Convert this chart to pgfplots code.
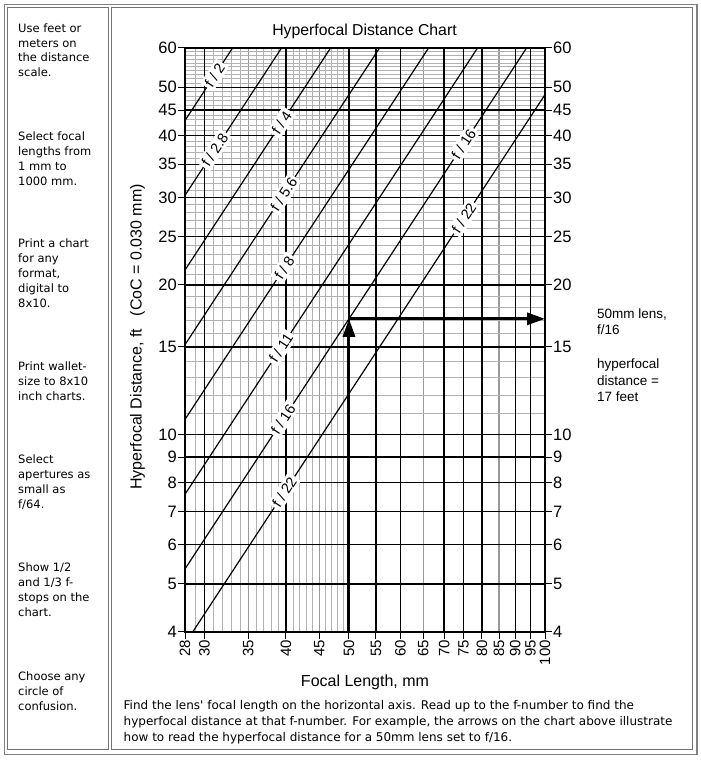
\documentclass[border=0pt]{standalone}
\usepackage{fontspec}
\setmainfont{Liberation Sans}
\newfontfamily\verd{DejaVu Sans}
\usepackage{pgfplots}
\pgfplotsset{compat=1.18}
\usetikzlibrary{arrows.meta}
\newcommand\vl[3]{\node[anchor=base west, inner sep=0pt, font=\verd\fontsize{11.5}{14}\selectfont] at (#1,{764-#2}) {#3};}
\newcommand\cl[3]{\node[anchor=base west, inner sep=0pt, font=\verd\fontsize{12}{14}\selectfont] at (#1,{764-#2}) {#3};}
\newcommand\al[3]{\node[anchor=base west, inner sep=0pt, font=\fontsize{13.5}{15}\selectfont] at (#1,{764-#2}) {#3};}
\begin{document}
\begin{tikzpicture}[x=1pt,y=1pt]
\path[use as bounding box] (0,0) rectangle (701,764);
% frames
\draw[gray, line width=1.2pt] (4.5,759.5) rectangle (697,9.5);
\draw[gray!90!black, line width=1pt] (7.5,756) rectangle (108,14);
\draw[gray!90!black, line width=1pt] (111,756) rectangle (692,14);
% left panel
\vl{18}{32.3}{Use feet or}
\vl{18}{47.1}{meters on}
\vl{18}{61.9}{the distance}
\vl{18}{76.7}{scale.}
\vl{18}{140.7}{Select focal}
\vl{18}{155.5}{lengths from}
\vl{18}{170.3}{1 mm to}
\vl{18}{185.1}{1000 mm.}
\vl{18}{248}{Print a chart}
\vl{18}{262.8}{for any}
\vl{18}{277.6}{format,}
\vl{18}{292.4}{digital to}
\vl{18}{307.2}{8x10.}
\vl{18}{370.7}{Print wallet-}
\vl{18}{385.5}{size to 8x10}
\vl{18}{400.3}{inch charts.}
\vl{18}{463.7}{Select}
\vl{18}{478.5}{apertures as}
\vl{18}{493.3}{small as}
\vl{18}{508.1}{f/64.}
\vl{18}{571.7}{Show 1/2}
\vl{18}{586.5}{and 1/3 f-}
\vl{18}{601.3}{stops on the}
\vl{18}{616.1}{chart.}
\vl{18}{680.5}{Choose any}
\vl{18}{695.3}{circle of}
\vl{18}{710.1}{confusion.}
% caption
\cl{123.5}{710}{Find the lens' focal length on the horizontal axis. Read up to the f-number to find the}
\cl{123.5}{726}{hyperfocal distance at that f-number. For example, the arrows on the chart above illustrate}
\cl{123.5}{742}{how to read the hyperfocal distance for a 50mm lens set to f/16.}
% right text
\al{597}{318.3}{50mm lens,}
\al{597}{335}{f/16}
\al{597}{369}{hyperfocal}
\al{597}{385.5}{distance =}
\al{597}{402}{17 feet}
% titles
\node[anchor=base, inner sep=0pt, font=\fontsize{15.8}{17}\selectfont] at (364.5,{764-36}) {Hyperfocal Distance Chart};
\node[anchor=base, inner sep=0pt, font=\fontsize{16}{17}\selectfont] at (365,{764-687}) {Focal Length, mm};
\node[anchor=base, rotate=90, inner sep=0pt, font=\fontsize{16}{17}\selectfont] at (141.5,{764-337}) {Hyperfocal Distance, ft\hspace{13pt}(CoC = 0.030 mm)};
% axis A: medium grey grid lines and right-hand tick labels (drawn underneath)
\begin{axis}[
  at={(185pt,132pt)}, anchor=south west, scale only axis,
  width=360pt, height=584pt,
  xmode=log, ymode=log, xmin=28, xmax=100, ymin=4, ymax=60,
  xtick={35,45,65,85}, xticklabels={}, xmajorgrids,
  major grid style={gray!80, line width=1.1pt},
  ytick={4,5,6,7,8,9,10,15,20,25,30,35,40,45,50,60},
  axis line style={draw=none},
  tick align=outside,
  xtick pos=left, xtick style={draw=none},
  ytick pos=right, yticklabel pos=right,
  major tick length=7pt,
  ytick style={black, line width=1pt},
  yticklabel={\pgfmathtruncatemacro\tl{round(exp(\tick))}\tl},
  yticklabel style={anchor=west, inner sep=1pt, font=\fontsize{16.5}{16.5}\selectfont},
]
\end{axis}
% axis B: main
\begin{axis}[
  at={(185pt,132pt)}, anchor=south west, scale only axis,
  width=360pt, height=584pt,
  xmode=log, ymode=log, xmin=28, xmax=100, ymin=4, ymax=60,
  xtick={28,30,35,40,45,50,55,60,65,70,75,80,85,90,95,100},
  minor xtick={29,31,32,33,34,36,37,38,39,41,42,43,44,46,47,48,49},
  ytick={4,5,6,7,8,9,10,15,20,25,30,35,40,45,50,60},
  minor ytick={11,12,13,14,16,17,18,19,21,22,23,24,26,27,28,29,31,32,33,34,36,37,38,39,41,42,43,44,46,47,48,49,51,52,53,54,55,56,57,58,59},
  xminorgrids, yminorgrids,
  minor grid style={gray!60, line width=0.7pt},
  extra x ticks={30,40,50,55,60,70,75,80,90,95},
  extra x tick labels={},
  extra x tick style={grid=major, major grid style={black, line width=1.25pt}, major tick length=0pt},
  extra y ticks={5,6,7,8,9,10,15,20,25,30,35,40,45,50},
  extra y tick labels={},
  extra y tick style={grid=major, major grid style={black, line width=1.25pt}, major tick length=0pt},
  axis line style={black, line width=1.8pt},
  tick align=outside,
  xtick pos=left, ytick pos=left,
  major tick length=7pt, minor tick length=0pt,
  tick style={black, line width=1pt},
  xticklabel={\pgfmathtruncatemacro\tl{round(exp(\tick))}\tl},
  yticklabel={\pgfmathtruncatemacro\tl{round(exp(\tick))}\tl},
  xticklabel style={rotate=90, anchor=east, inner sep=1pt, font=\fontsize{15}{15}\selectfont},
  yticklabel style={anchor=east, inner sep=1pt, font=\fontsize{16.5}{16.5}\selectfont},
]
\addplot[black, line width=1.2pt, mark=none] coordinates {(28,42.87) (33.13,60)};
\addplot[black, line width=1.2pt, mark=none] coordinates {(28,30.31) (39.39,60)};
\addplot[black, line width=1.2pt, mark=none] coordinates {(28,21.43) (46.85,60)};
\addplot[black, line width=1.2pt, mark=none] coordinates {(28,15.16) (55.71,60)};
\addplot[black, line width=1.2pt, mark=none] coordinates {(28,10.72) (66.25,60)};
\addplot[black, line width=1.2pt, mark=none] coordinates {(28,7.578) (78.79,60)};
\addplot[black, line width=1.2pt, mark=none] coordinates {(28,5.359) (93.69,60)};
\addplot[black, line width=1.2pt, mark=none] coordinates {(28.77,4) (100,48.33)};
% arrows
\addplot[black, line width=3pt, mark=none, -{Triangle[length=18pt,width=12pt]}] coordinates {(50,4) (50,17.09)};
\addplot[black, line width=3pt, mark=none, -{Triangle[length=18pt,width=12pt]}] coordinates {(50,17.09) (100,17.09)};
% labels
\tikzset{flab/.style={rotate=56.75, fill=white, inner sep=2.4pt, font=\fontsize{14.5}{14.5}\selectfont}}
\node[flab] at (axis cs:31.1,52.9) {f / 2};
\node[flab] at (axis cs:31.1,37.4) {f / 2.8};
\node[flab] at (axis cs:39.4,42.44) {f / 4};
\node[flab] at (axis cs:39.7,30.47) {f / 5.6};
\node[flab] at (axis cs:39.8,21.65) {f / 8};
\node[flab] at (axis cs:39.3,14.93) {f / 11};
\node[flab] at (axis cs:39.6,10.72) {f / 16};
\node[flab] at (axis cs:39.8,7.66) {f / 22};
\node[flab] at (axis cs:75.0,38.45) {f / 16};
\node[flab] at (axis cs:75.1,27.26) {f / 22};
\end{axis}
\end{tikzpicture}
\end{document}
